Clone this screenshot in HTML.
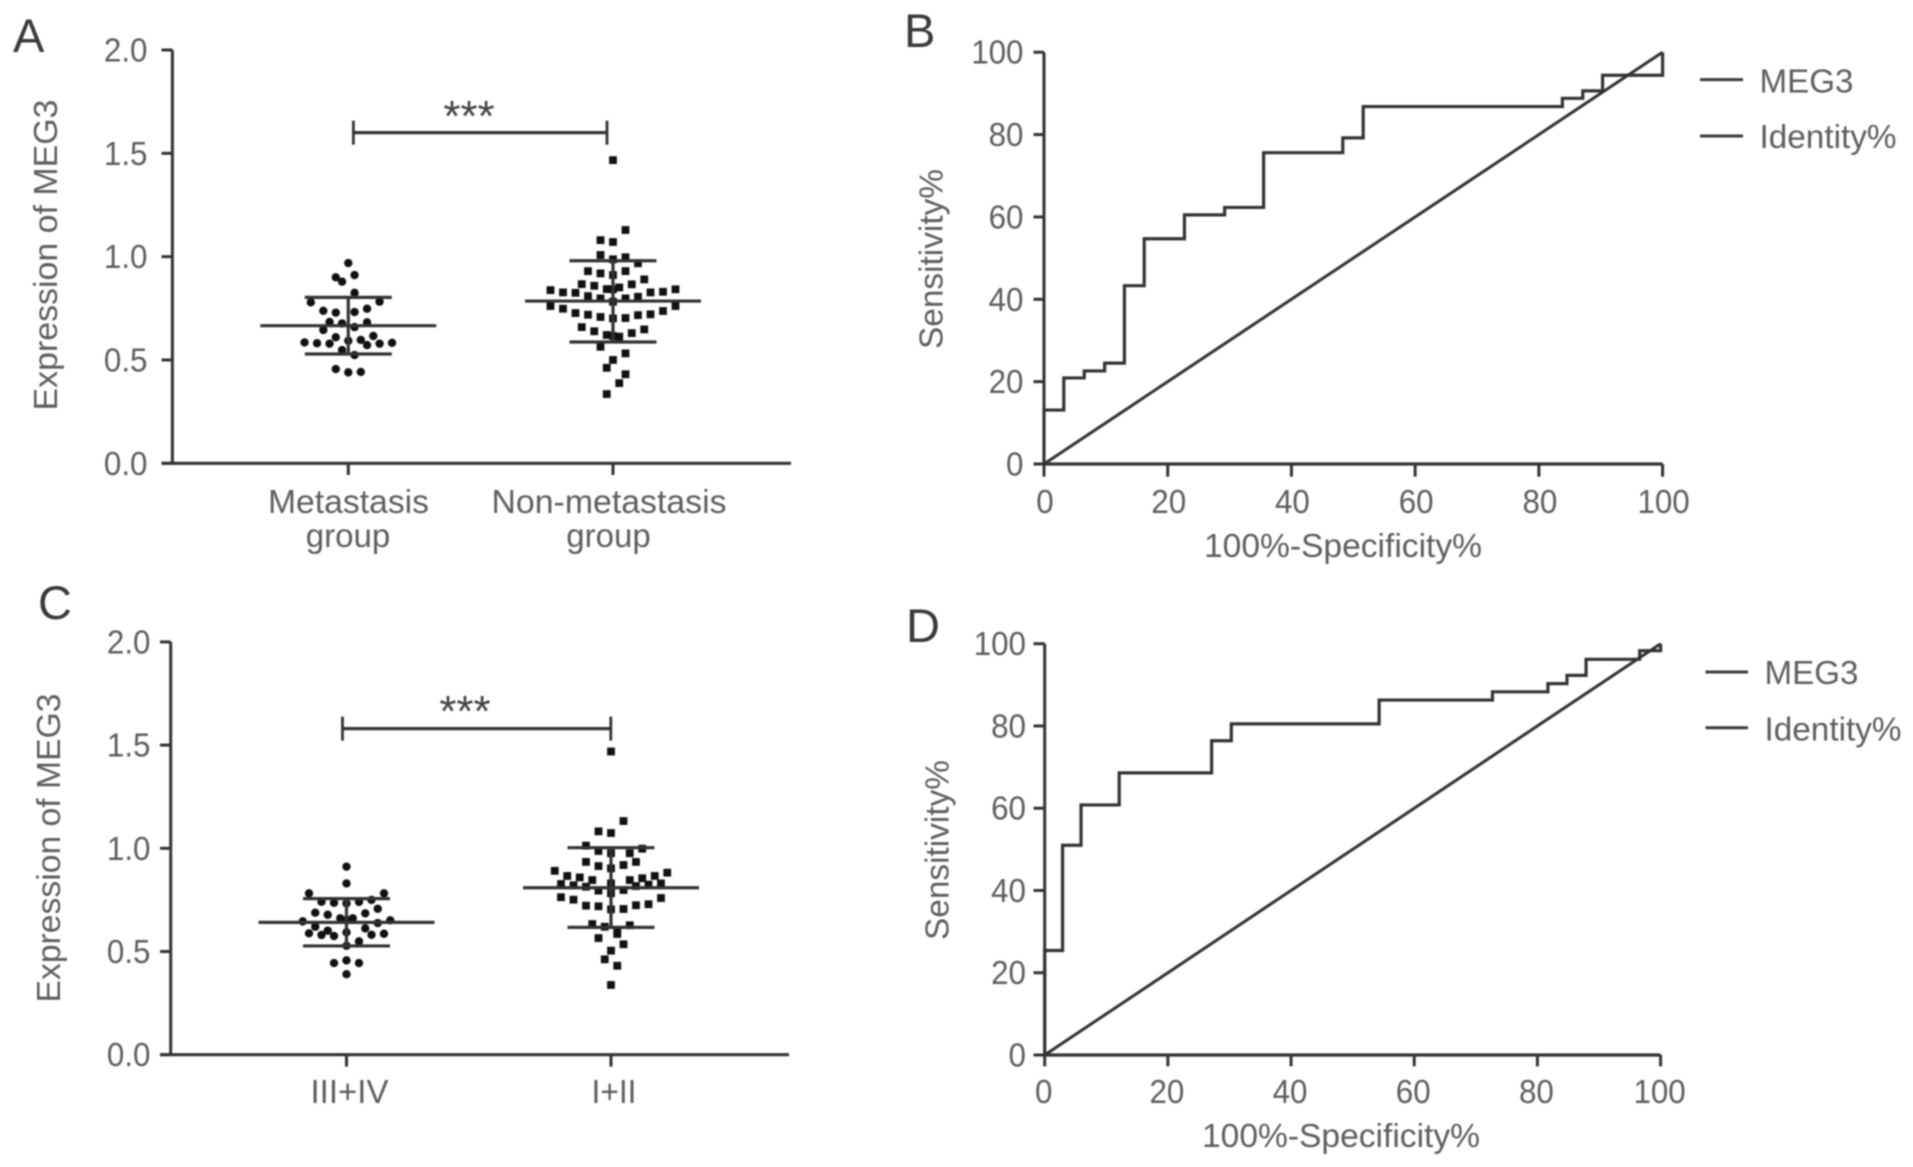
<!DOCTYPE html>
<html lang="en">
<head>
<meta charset="utf-8">
<title>MEG3 expression and ROC curves</title>
<style>
html,body{margin:0;padding:0;background:#fff;width:1913px;height:1167px;overflow:hidden}
svg{display:block;filter:blur(.7px)}
text{font-family:"Liberation Sans",sans-serif;fill:#5e5e5e}
.letter{font-size:47px;fill:#3a3a3a}
.title{font-size:33px}
.cat{font-size:33px;text-anchor:middle}
.star{font-size:44px;text-anchor:middle;fill:#444}
.leg{font-size:33px}
</style>
</head>
<body>
<svg id="figure" xmlns="http://www.w3.org/2000/svg" width="1913" height="1167" viewBox="0 0 1913 1167">
  <rect x="0" y="0" width="1913" height="1167" fill="#fff"/>

  <g id="panel-a">
    <text class="letter" x="13" y="52">A</text>
    <text class="title" text-anchor="middle" transform="translate(57 255) rotate(-90)" textLength="311" lengthAdjust="spacingAndGlyphs">Expression of MEG3</text>
    <text class="cat" x="348.5" y="513" textLength="161" lengthAdjust="spacingAndGlyphs">Metastasis</text>
    <text class="cat" x="348" y="547">group</text>
    <text class="cat" x="609" y="513" textLength="235" lengthAdjust="spacingAndGlyphs">Non-metastasis</text>
    <text class="cat" x="608.5" y="547">group</text>
    <text class="star" x="469" y="131">***</text>
  </g>

  <g id="panel-b">
    <text class="letter" x="904" y="47">B</text>
    <text class="title" text-anchor="middle" transform="translate(942.5 259) rotate(-90)" textLength="180" lengthAdjust="spacingAndGlyphs">Sensitivity%</text>
    <text class="title" text-anchor="middle" x="1343" y="557" textLength="278" lengthAdjust="spacingAndGlyphs">100%-Specificity%</text>
    <line x1="1700" x2="1743" y1="79.6" y2="79.6" stroke="#3a3a3a" stroke-width="3"/>
    <text class="leg" x="1759.5" y="92.6" textLength="94" lengthAdjust="spacingAndGlyphs">MEG3</text>
    <line x1="1700" x2="1743" y1="136" y2="136" stroke="#3a3a3a" stroke-width="3"/>
    <text class="leg" x="1759.5" y="148" textLength="137" lengthAdjust="spacingAndGlyphs">Identity%</text>
  </g>

  <g id="panel-c">
    <text class="letter" x="38" y="619">C</text>
    <text class="title" text-anchor="middle" transform="translate(60 848) rotate(-90)" textLength="309" lengthAdjust="spacingAndGlyphs">Expression of MEG3</text>
    <text class="cat" x="349.5" y="1103" textLength="78" lengthAdjust="spacingAndGlyphs">III+IV</text>
    <text class="cat" x="614" y="1103" textLength="45" lengthAdjust="spacingAndGlyphs">I+II</text>
    <text class="star" x="465" y="726">***</text>
  </g>

  <g id="panel-d">
    <text class="letter" x="906" y="642">D</text>
    <text class="title" text-anchor="middle" transform="translate(948.5 850) rotate(-90)" textLength="180" lengthAdjust="spacingAndGlyphs">Sensitivity%</text>
    <text class="title" text-anchor="middle" x="1341" y="1147" textLength="278" lengthAdjust="spacingAndGlyphs">100%-Specificity%</text>
    <line x1="1705.5" x2="1748" y1="672" y2="672" stroke="#3a3a3a" stroke-width="3"/>
    <text class="leg" x="1764.5" y="684" textLength="94" lengthAdjust="spacingAndGlyphs">MEG3</text>
    <line x1="1705.5" x2="1748" y1="727.7" y2="727.7" stroke="#3a3a3a" stroke-width="3"/>
    <text class="leg" x="1764.5" y="740.5" textLength="137" lengthAdjust="spacingAndGlyphs">Identity%</text>
  </g>
</svg>

<script>
// ---- Tick labels ----
var swarmTickLabels = ['0.0', '0.5', '1.0', '1.5', '2.0'];
var rocTickLabels = ['0', '20', '40', '60', '80', '100'];

// ---- Panel A: expression values and swarm column of each point ----
var aMetastasisValues = [.969,.911,.900,.879,.825,.779,.782,.738,.729,.732,.748,.684,.677,.682,.645,.659,.585,.581,.579,.610,.593,.597,.572,.616,.579,.583,.548,.524,.456,.440,.442];
var aMetastasisColumns = [0,.5,-1,-.5,.5,-3,2.5,-2,-1,.5,1.5,-1.5,-.5,1.5,-2,.5,-3.5,-2.5,-1.5,-1,0,1,1.5,2,2.5,3.5,-.5,.5,-1,0,1];
var aNonMetastasisValues = [1.467,1.129,1.080,1.071,1.008,.987,.997,.968,.930,.919,.911,.930,.890,.867,.859,.866,.842,.843,.851,.838,.827,.825,.809,.798,.782,.798,.806,.827,.830,.842,.761,.748,.727,.719,.708,.701,.703,.717,.721,.737,.761,.659,.639,.621,.616,.613,.630,.648,.564,.532,.500,.462,.431,.388,.335];
var aNonMetastasisColumns = [0,1,-1,0,-1,0,1,2,-2,-1,0,1,2.5,-2.5,-1.5,1.5,0,-.5,.5,-5,-4,-3,-2,-1,0,1,2,3,4,5,-5,-4,-3,-2,-1,0,1,2,3,4,5,-2.5,-1.5,-.5,0,.5,1.5,2.5,-1,1,0,-.5,1,.5,-.5];
var aMeans = [.666, .785];
var aSdUpper = [.803, .980];
var aSdLower = [.529, .587];
var aBracketLevel = [1.60];

// ---- Panel C ----
var cLateStageValues = [.911,.830,.782,.782,.741,.736,.733,.740,.750,.707,.688,.678,.685,.661,.661,.653,.646,.620,.638,.651,.588,.580,.601,.575,.593,.612,.581,.586,.549,.528,.444,.457,.444,.390];
var cLateStageColumns = [0,0,-3,3,-2,-1,0,1,2,2.5,-2.5,-1.5,1.5,-.5,.5,0,-3.5,-2.5,2.5,3.5,-3,-2,-1.5,-1,0,1.5,2,3,1,0,-1,0,1,0];
var cEarlyStageValues = [1.469,1.132,1.082,1.074,1.013,.987,.976,.976,.998,.934,.914,.903,.919,.934,.891,.866,.859,.846,.827,.821,.814,.830,.846,.855,.866,.882,.817,.824,.830,.795,.782,.798,.763,.751,.722,.719,.704,.706,.724,.729,.759,.633,.620,.604,.627,.565,.585,.535,.504,.462,.431,.338];
var cEarlyStageColumns = [0,1,-1,0,-2,-1,0,1.5,2.5,-2,-1,0,1,2,-4.5,-3.5,-2.5,-1.5,-4,-3,-2,0,1.5,2.5,3.5,4.5,2,3,4,-1,0,1,-4,-3,-2,-1,0,1,2,3,4,-1.5,-.5,.5,1.5,-1,.5,1,0,-.5,.5,0];
var cMeans = [.641, .809];
var cSdUpper = [.756, 1.003];
var cSdLower = [.527, .617];
var cBracketLevel = [1.58];

// ---- ROC curves: one specificity step and the sensitivity reached at it ----
var bFalsePositive = [0,3.2,6.5,9.8,13,16.2,22.7,29.2,35.5,48.3,51.6,83.8,87.1,90.3,100];
var bSensitivity = [13.1,20.9,22.6,24.5,43.3,54.7,60.5,62.3,75.6,79.2,86.8,88.8,90.6,94.4,100];
var dFalsePositive = [0,2.9,5.9,12.1,27.1,30.3,54.3,72.7,81.7,84.8,87.9,96.6,100];
var dSensitivity = [25.4,51,60.8,68.6,76.4,80.5,86.3,88.3,90.3,92.3,96.2,98.3,100];
var identityLine = [0, 100];

var NS = 'http://www.w3.org/2000/svg';
var INK = '#333';

function make(parentId, tag, attrs, text) {
  var node = document.createElementNS(NS, tag);
  for (var key in attrs) node.setAttribute(key, attrs[key]);
  if (text !== undefined) node.textContent = text;
  document.getElementById(parentId).appendChild(node);
  return node;
}

// Tick labels in the reference are taller and narrower than Liberation Sans.
function condense(node) {
  node.setAttribute('textLength', node.getComputedTextLength() * 0.95);
  node.setAttribute('lengthAdjust', 'spacingAndGlyphs');
}

function scale(d0, d1, p0, p1) {
  return function (v) { return p0 + (v - d0) * (p1 - p0) / (d1 - d0); };
}

function line(parentId, x1, y1, x2, y2, width, name) {
  var node = make(parentId, 'line', {x1: x1, y1: y1, x2: x2, y2: y2, stroke: INK, 'stroke-width': width});
  
  
  return node;
}

function drawSwarmAxes(id, axisX, axisEnd, yScale, tickRight, tickLabelRight, groupX, tickBottom) {
  line(id, axisX, yScale(0), axisX, yScale(2), 3, id + '-y-axis');
  line(id, tickRight, yScale(0), axisEnd, yScale(0), 3.2, id + '-x-axis');
  swarmTickLabels.forEach(function (label) {
    var v = parseFloat(label);
    line(id, tickRight, yScale(v), axisX, yScale(v), 3, id + '-y-tick');
    var t = make(id, 'text', {x: tickLabelRight, y: yScale(v) + 11.5, 'text-anchor': 'end', 'font-size': 33}, label);
    condense(t);
    
    
  });
  [0, 1].forEach(function (g) {
    line(id, groupX(g), yScale(0), groupX(g), tickBottom, 3, id + '-x-tick');
  });
}

function drawGroup(id, cx, yScale, values, columns, mean, upper, lower, shape, name) {
  values.forEach(function (v, i) {
    var px = cx + columns[i] * 12.5;
    var py = yScale(v);
    var mark;
    if (shape === 'circle') {
      mark = make(id, 'circle', {cx: px, cy: py, r: 4.2, fill: '#111'});
    } else {
      mark = make(id, 'rect', {x: px - 3.9, y: py - 3.9, width: 7.8, height: 7.8, fill: '#111'});
    }
    
    
  });
  line(id, cx - 88, yScale(mean), cx + 88, yScale(mean), 3.2, name + '-mean-line');
  line(id, cx - 43.5, yScale(upper), cx + 43.5, yScale(upper), 3.2, name + '-sd-upper');
  line(id, cx - 43.5, yScale(lower), cx + 43.5, yScale(lower), 3.2, name + '-sd-lower');
  line(id, cx, yScale(upper), cx, yScale(lower), 3.2, name + '-sd-stem');
}

function drawBracket(id, x1, x2, y, half) {
  line(id, x1, y, x2, y, 3.2, id + '-significance-bracket');
  line(id, x1, y - half, x1, y + half, 2.8, id + '-bracket-left-end');
  line(id, x2, y - half, x2, y + half, 2.8, id + '-bracket-right-end');
}

function drawRoc(id, x, y, tickLeft, tickBottom, labelRight, labelBaseline, labelShift, fpr, tpr) {
  line(id, x(0), y(0), x(0), y(100), 3, id + '-y-axis');
  line(id, x(0), y(0), x(100), y(0), 3.2, id + '-x-axis');
  rocTickLabels.forEach(function (label) {
    var v = parseFloat(label);
    line(id, tickLeft, y(v), x(0), y(v), 3, id + '-y-tick');
    line(id, x(v), y(0), x(v), tickBottom, 3, id + '-x-tick');
    var yl = make(id, 'text', {x: labelRight, y: y(v) + 11.5, 'text-anchor': 'end', 'font-size': 33}, label);
    condense(yl);
    
    
    var xl = make(id, 'text', {x: x(v) + labelShift, y: labelBaseline, 'text-anchor': 'middle', 'font-size': 33}, label);
    condense(xl);
    
    
  });
  var identity = make(id, 'line', {x1: x(identityLine[0]), y1: y(identityLine[0]), x2: x(identityLine[1]), y2: y(identityLine[1]), stroke: INK, 'stroke-width': 3});
  
  
  var d = 'M' + x(0) + ' ' + y(0);
  fpr.forEach(function (f, i) {
    d += ' L' + x(f) + ' ' + (i === 0 ? y(0) : y(tpr[i - 1]));
    d += ' L' + x(f) + ' ' + y(tpr[i]);
  });
  var curve = make(id, 'path', {d: d, fill: 'none', stroke: INK, 'stroke-width': 3.2, 'stroke-linejoin': 'miter'});
  
  
}

// Panel A
var yA = scale(0, 2, 463.3, 50);
var groupA = scale(0, 1, 348.3, 613);
drawSwarmAxes('panel-a', 172.4, 791, yA, 161.5, 147.5, groupA, 475);
drawGroup('panel-a', groupA(0), yA, aMetastasisValues, aMetastasisColumns, aMeans[0], aSdUpper[0], aSdLower[0], 'circle', 'metastasis-group');
drawGroup('panel-a', groupA(1), yA, aNonMetastasisValues, aNonMetastasisColumns, aMeans[1], aSdUpper[1], aSdLower[1], 'square', 'non-metastasis-group');
drawBracket('panel-a', 353.4, 607, yA(aBracketLevel[0]), 12);

// Panel C
var yC = scale(0, 2, 1054.7, 641.9);
var groupC = scale(0, 1, 346.5, 611);
drawSwarmAxes('panel-c', 170.7, 789, yC, 160, 150.5, groupC, 1066.7);
drawGroup('panel-c', groupC(0), yC, cLateStageValues, cLateStageColumns, cMeans[0], cSdUpper[0], cSdLower[0], 'circle', 'stage-3-4-group');
drawGroup('panel-c', groupC(1), yC, cEarlyStageValues, cEarlyStageColumns, cMeans[1], cSdUpper[1], cSdLower[1], 'square', 'stage-1-2-group');
drawBracket('panel-c', 342.5, 610.8, yC(cBracketLevel[0]), 12);

// Panel B
drawRoc('panel-b', scale(0, 100, 1044, 1662.6), scale(0, 100, 464, 52.2), 1033.5, 476.7, 1023.5, 513, 1, bFalsePositive, bSensitivity);

// Panel D
drawRoc('panel-d', scale(0, 100, 1044.7, 1660.6), scale(0, 100, 1055, 643.7), 1033.5, 1066.3, 1026, 1103, -1, dFalsePositive, dSensitivity);
</script>
</body>
</html>
